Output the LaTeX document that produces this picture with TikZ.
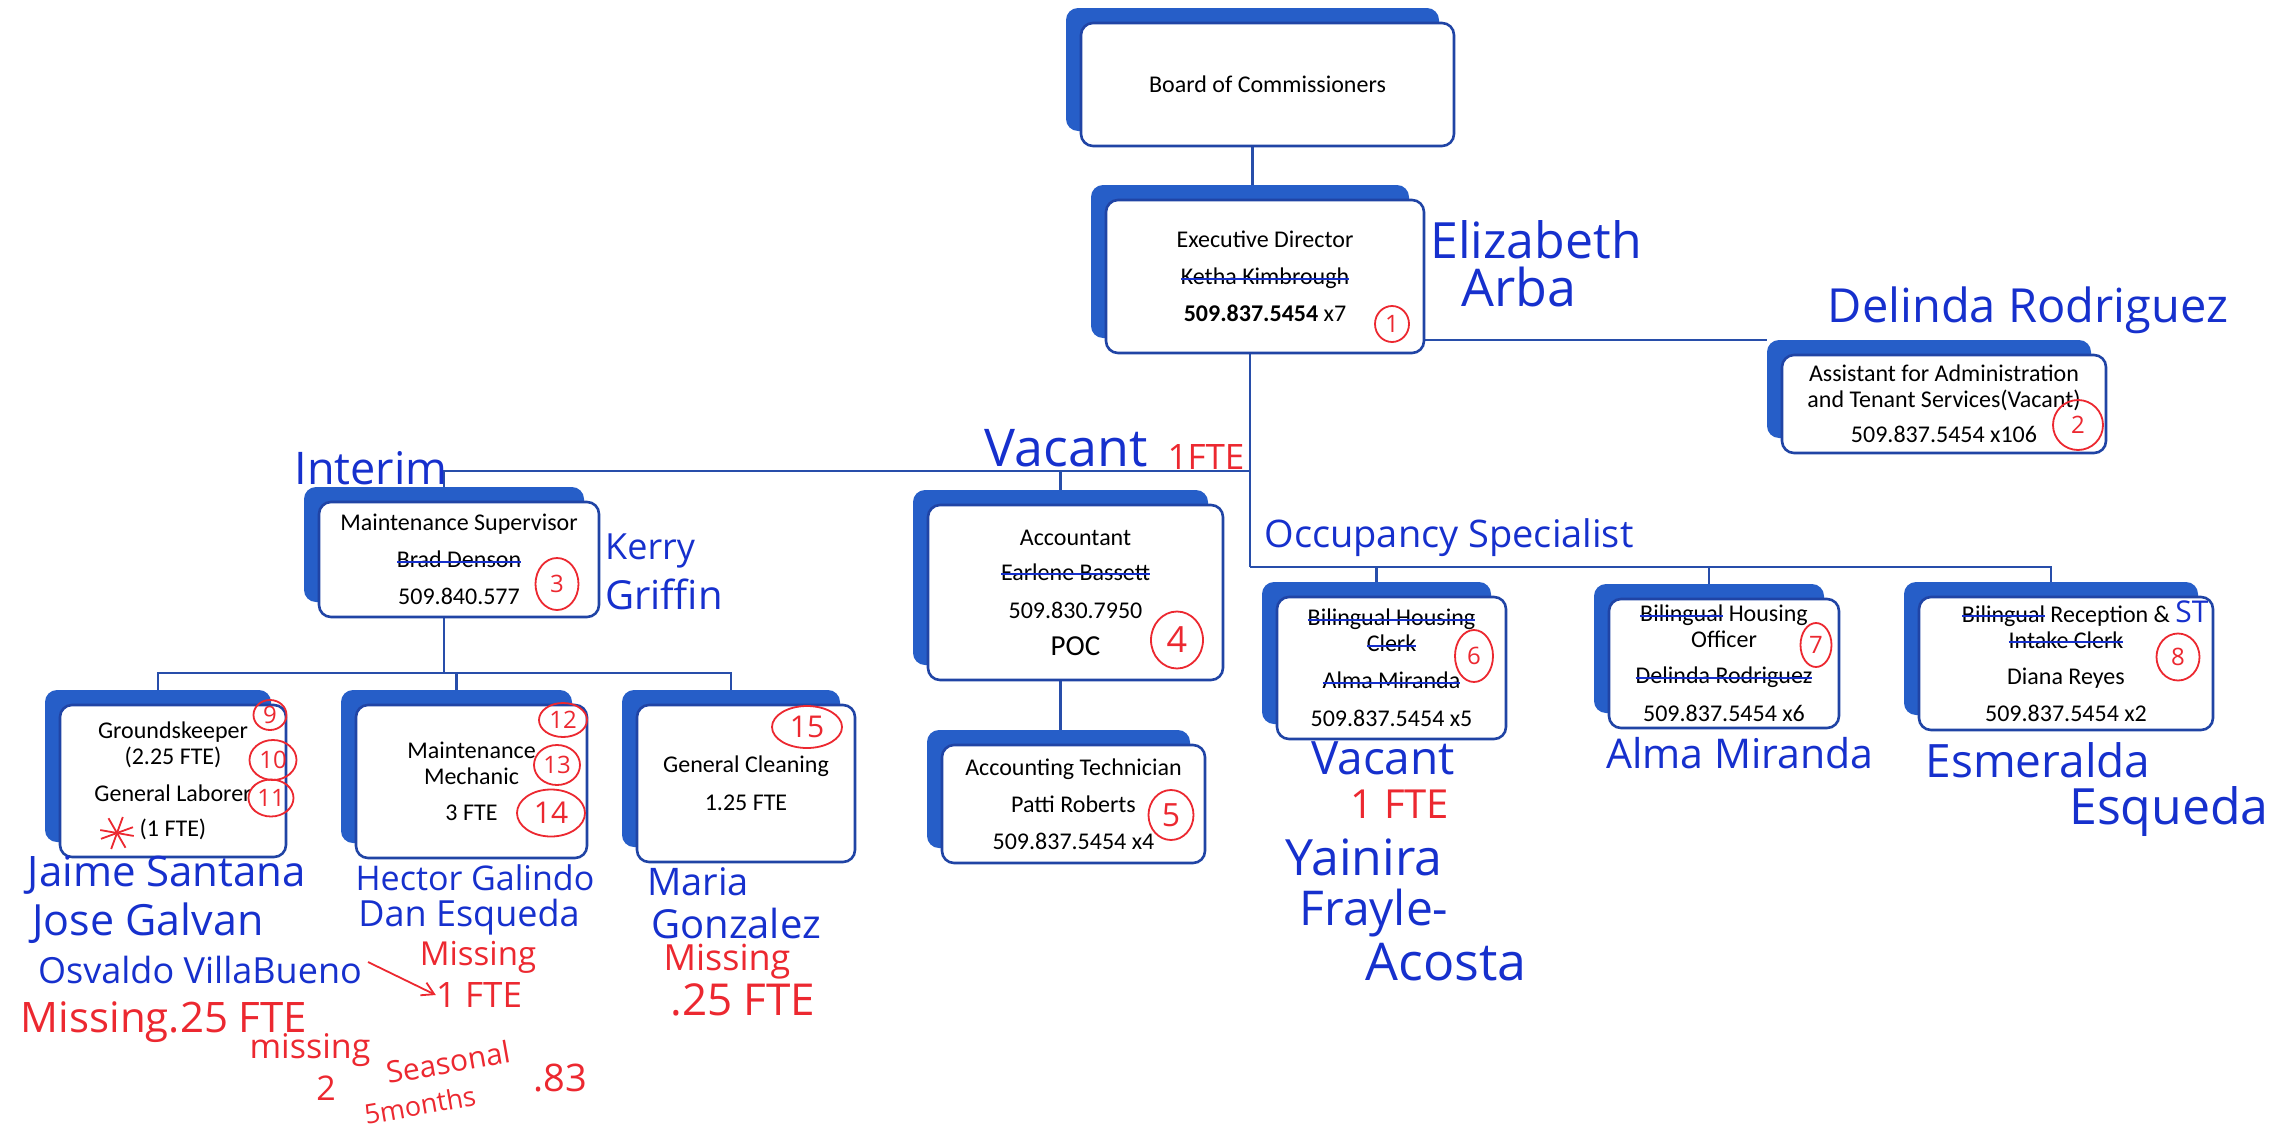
\documentclass[tikz,border=0pt]{standalone}
\usepackage{fontspec}
\setmainfont{Carlito}
\newfontfamily\handfont{Open Sans}
\usetikzlibrary{arrows.meta,shapes.geometric,backgrounds}
\definecolor{chartblue}{RGB}{38,94,200}
\definecolor{edgeblue}{RGB}{32,68,165}
\definecolor{wire}{RGB}{40,78,170}
\definecolor{pen}{RGB}{22,48,205}
\definecolor{redpen}{RGB}{236,40,48}
\newlength\strucklen
\newcommand\struck[1]{\settowidth\strucklen{#1}\rlap{#1}\textcolor{pen}{\rule[0.42ex]{\strucklen}{2.2pt}}}
\tikzset{
  back/.style={fill=chartblue, rounded corners=12, inner sep=0},
  card/.style={draw=edgeblue, line width=2.6, fill=white, rounded corners=12,
              inner sep=0, align=center, font=\fontsize{24}{26}\selectfont},
  link/.style={draw=wire, line width=2.4},
  hand/.style={text=pen, inner sep=0, font=\handfont\fontsize{#1}{#1}\selectfont},
  redhand/.style={hand=#1, text=redpen},
  num/.style={ellipse, draw=redpen, line width=1.8, text=redpen, inner sep=0,
              font=\handfont\fontsize{24}{24}\selectfont},
}

\begin{document}
\begin{tikzpicture}[x=1pt,y=-1pt]
        \useasboundingbox (0,0) rectangle (2295,1127);
        % top of the chart
        \node[back,minimum width=373,minimum height=123] (boardback) at (1252.5,69.5) {};
        \node[card,minimum width=373,minimum height=123] (board) at (1267.5,84.5) {Board of Commissioners};
        \node[back,minimum width=318,minimum height=153] (execback) at (1250,261.5) {};
        \node[card,minimum width=318,minimum height=153] (exec) at (1265,276.5) {Executive Director\\[11pt]\struck{Ketha Kimbrough}\\[11pt]\textbf{509.837.5454} x7};
        \node[back,minimum width=324,minimum height=98] (asstback) at (1929,389) {};
        \node[card,minimum width=324,minimum height=98] (asst) at (1944,404) {Assistant for Administration\\and Tenant Services(Vacant)\\[9pt]509.837.5454 x106};
        % second row
        \node[back,minimum width=280,minimum height=115] (supback) at (444,544.5) {};
        \node[card,minimum width=280,minimum height=115] (sup) at (459,559.5) {Maintenance Supervisor\\[11pt]\struck{Brad Denson}\\[11pt]509.840.577};
        \node[back,minimum width=295,minimum height=175] (acctback) at (1060.5,577.5) {};
        \node[card,minimum width=295,minimum height=175] (acct) at (1075.5,592.5) {Accountant\\[9pt]\struck{Earlene Bassett}\\[12pt]509.830.7950\\[11pt]{\fontsize{29}{31}\selectfont POC}};
        \node[back,minimum width=263,minimum height=118] (techback) at (1058.5,789) {};
        \node[card,minimum width=263,minimum height=118] (tech) at (1073.5,804) {Accounting Technician\\[11pt]Patti Roberts\\[11pt]509.837.5454 x4};
        \node[back,minimum width=229,minimum height=142] (clerkback) at (1376.5,653) {};
        \node[card,minimum width=229,minimum height=142] (clerk) at (1391.5,668) {\struck{Bilingual Housing}\\\struck{Clerk}\\[11pt]\struck{Alma Miranda}\\[12pt]509.837.5454 x5};
        \node[back,minimum width=230,minimum height=129] (officerback) at (1709,648.5) {};
        \node[card,minimum width=230,minimum height=129] (officer) at (1724,663.5) {\struck{Bilingual} Housing\\Officer\\[10pt]\struck{Delinda Rodriguez}\\[12pt]509.837.5454 x6};
        \node[back,minimum width=294,minimum height=133] (receptionback) at (2051,648.5) {};
        \node[card,minimum width=294,minimum height=133] (reception) at (2066,663.5) {\struck{Bilingual} Reception \&\\\struck{Intake Clerk}\\[10pt]Diana Reyes\\[11pt]509.837.5454 x2};
        % maintenance crews
        \node[back,minimum width=226,minimum height=152] (groundsback) at (158,766) {};
        \node[card,minimum width=226,minimum height=152] (grounds) at (173,781) {Groundskeeper\\(2.25 FTE)\\[11pt]General Laborer\\[9pt](1 FTE)};
        \node[back,minimum width=231,minimum height=153] (mechback) at (456.5,766.5) {};
        \node[card,minimum width=231,minimum height=153] (mech) at (471.5,781.5) {Maintenance\\Mechanic\\[10pt]3 FTE};
        \node[back,minimum width=218,minimum height=157] (cleanback) at (731,768.5) {};
        \node[card,minimum width=218,minimum height=157] (clean) at (746,783.5) {General Cleaning\\[12pt]1.25 FTE};
        % connectors
        \coordinate (upperbus) at (1250,471);
        \coordinate (lowerbus) at (1250,567);
        \coordinate (supbus) at (444,673);
        \begin{scope}[on background layer]
          \draw[link] (boardback.south) -- (boardback.south |- execback.north);
          \draw[link] (execback.center |- asstback.north) -- (asstback.north west);
          \draw[link] (execback.south) -- (lowerbus);
          \draw[link] (upperbus) -| (supback.north);
          \draw[link] (upperbus) -| (acctback.north);
          \draw[link] (acctback.south) -- (acctback.south |- techback.north);
          \draw[link] (lowerbus) -| (clerkback.north);
          \draw[link] (lowerbus) -| (officerback.north);
          \draw[link] (lowerbus) -| (receptionback.north);
          \draw[link] (supback.south) -- (supbus);
          \draw[link] (supbus) -| (groundsback.north);
          \draw[link] (supbus) -| (mechback.north);
          \draw[link] (supbus) -| (cleanback.north);
        \end{scope}
        % red position numbers
        \node[num,minimum width=34,minimum height=36] (n1) at (1392,324) {1};
        \node[num,minimum width=50,minimum height=50] (n2) at (2078,425) {2};
        \node[num,minimum width=43,minimum height=52] (n3) at (557,584) {3};
        \node[num,minimum width=52,minimum height=57,font=\handfont\fontsize{36}{36}\selectfont] (n4) at (1177,640) {4};
        \node[num,minimum width=45,minimum height=50,font=\handfont\fontsize{32}{32}\selectfont] (n5) at (1171,815) {5};
        \node[num,minimum width=38,minimum height=52] (n6) at (1474,656) {6};
        \node[num,minimum width=31,minimum height=44] (n7) at (1816,645) {7};
        \node[num,minimum width=43,minimum height=47] (n8) at (2178,657) {8};
        \node[num,minimum width=33,minimum height=30] (n9) at (270,715) {9};
        \node[num,minimum width=47,minimum height=40] (n10) at (273,760) {10};
        \node[num,minimum width=45,minimum height=37] (n11) at (271,798) {11};
        \node[num,minimum width=48,minimum height=34] (n12) at (563,720) {12};
        \node[num,minimum width=46,minimum height=40] (n13) at (557,765) {13};
        \node[num,minimum width=68,minimum height=47,font=\handfont\fontsize{30}{30}\selectfont] (n14) at (551,813) {14};
        \node[num,minimum width=70,minimum height=42,font=\handfont\fontsize{30}{30}\selectfont] (n15) at (807,727) {15};
        \coordinate (star) at (117,833);
        \foreach \a in {10,60,110,160}
          \draw[redpen,line width=1.8] (star) ++(\a:17) -- ++(\a+180:34);
        % handwritten notes, blue
        \node[hand=50] (nameexec) at (1536,240) {Elizabeth};
        \node[hand=52] (nameexec2) at (1519,287) {Arba};
        \node[hand=47] (nameasst) at (2028,310) {Delinda Rodriguez};
        \node[hand=45] (interim) at (371,468) {Interim};
        \node[hand=36,anchor=west] (namesup) at (605,551) {Kerry};
        \node[hand=40,anchor=west] (namesup2) at (605,594) {Griffin};
        \node[hand=52] (vacacct) at (1066,448) {Vacant};
        \node[hand=38] (occupancy) at (1449,538) {Occupancy Specialist};
        \node[hand=46] (vacclerk) at (1383,758) {Vacant};
        \node[hand=50] (nameclerk) at (1364,857) {Yainira};
        \node[hand=48] (nameclerk2) at (1374,913) {Frayle-};
        \node[hand=52] (nameclerk3) at (1446,962) {Acosta};
        \node[hand=41] (nameofficer) at (1740,753) {Alma Miranda};
        \node[hand=46] (namerecep) at (2038,760) {Esmeralda};
        \node[hand=50] (namerecep2) at (2169,812) {Esqueda};
        \node[hand=30] (recepst) at (2192,612) {ST};
        \node[hand=42] (grounds1) at (167,875) {Jaime Santana};
        \node[hand=43] (grounds2) at (148,923) {Jose Galvan};
        \node[hand=36] (grounds3) at (200,970) {Osvaldo VillaBueno};
        \node[hand=34] (mech1) at (475,878) {Hector Galindo};
        \node[hand=36] (mech2) at (469,917) {Dan Esqueda};
        \node[hand=38] (clean1) at (698,882) {Maria};
        \node[hand=40] (clean2) at (736,923) {Gonzalez};
        % handwritten notes, red
        \node[redhand=35] (fteacct) at (1206,457) {1FTE};
        \node[redhand=40] (fteclerk) at (1400,804) {1 FTE};
        \node[redhand=42] (groundsmiss) at (164,1022) {Missing.25 FTE};
        \node[redhand=33] (mechmiss) at (478,957) {Missing};
        \node[redhand=35] (mechfte) at (479,995) {1 FTE};
        \coordinate (arrowtail) at (368,962);
        \draw[redpen,line width=1.8,-{Straight Barb[length=12pt,width=14pt]}] (arrowtail) -- (mechfte.west);
        \node[redhand=34] (seasonmiss) at (310,1050) {missing};
        \node[redhand=34] (seasontwo) at (326,1088) {2};
        \node[redhand=30,rotate=10] (seasonal) at (448,1062) {Seasonal};
        \node[redhand=27,rotate=10] (months) at (420,1105) {5months};
        \node[redhand=38] (seasonfte) at (560,1078) {.83};
        \node[redhand=36] (cleanmiss) at (727,962) {Missing};
        \node[redhand=44] (cleanfte) at (743,1000) {.25 FTE};
      \end{tikzpicture}
\end{document}
